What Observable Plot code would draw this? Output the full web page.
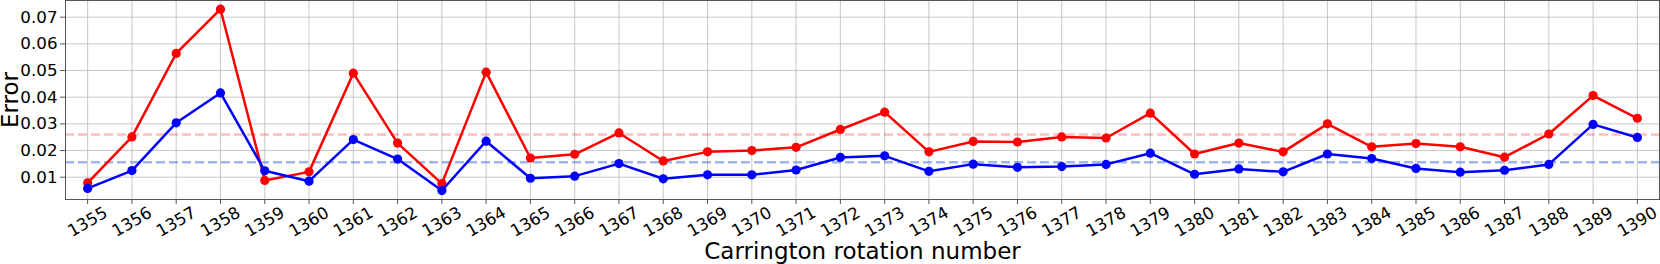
<!DOCTYPE html>
<html>
<head>
<meta charset="utf-8">
<script src="https://cdn.jsdelivr.net/npm/d3@7"></script>
<script src="https://cdn.jsdelivr.net/npm/@observablehq/plot@0.6"></script>
<style>
  html, body { margin: 0; padding: 0; background: #fff; }
  #chart svg { display: block; }
</style>
</head>
<body>
<div id="chart"></div>
<script>
const rotations = [1355,1356,1357,1358,1359,1360,1361,1362,1363,1364,1365,1366,1367,1368,1369,1370,1371,1372,1373,1374,1375,1376,1377,1378,1379,1380,1381,1382,1383,1384,1385,1386,1387,1388,1389,1390];
const redErrors = [0.0079,0.0251,0.0564,0.0730,0.0088,0.0120,0.0490,0.0228,0.0076,0.0494,0.0172,0.0186,0.0266,0.0161,0.0195,0.0200,0.0212,0.0279,0.0344,0.0195,0.0234,0.0232,0.0251,0.0247,0.0340,0.0187,0.0228,0.0195,0.0300,0.0214,0.0226,0.0214,0.0175,0.0262,0.0406,0.0321];
const blueErrors = [0.0058,0.0125,0.0304,0.0416,0.0124,0.0085,0.0241,0.0168,0.0050,0.0235,0.0096,0.0104,0.0151,0.0094,0.0109,0.0109,0.0127,0.0174,0.0180,0.0122,0.0149,0.0137,0.0140,0.0148,0.0190,0.0111,0.0131,0.0120,0.0187,0.0170,0.0133,0.0119,0.0126,0.0148,0.0298,0.0249];
const redMean = 0.0260;
const blueMean = 0.0156;
const yTicks = [0.01,0.02,0.03,0.04,0.05,0.06,0.07];
const xLabel = "Carrington rotation number";
const yLabel = "Error";

const redData = rotations.map((r, i) => ({r, v: redErrors[i]}));
const blueData = rotations.map((r, i) => ({r, v: blueErrors[i]}));

const font = "DejaVu Sans, Liberation Sans, sans-serif";

const chart = Plot.plot({
  width: 1660,
  height: 264,
  marginLeft: 65,
  marginRight: 1,
  marginTop: 0,
  marginBottom: 65,
  style: {fontFamily: font, background: "#fff", color: "#000", overflow: "visible"},
  x: {domain: [1354.5, 1390.5], axis: null},
  y: {domain: [0.00164, 0.07626], axis: null},
  marks: [
    Plot.gridX(rotations, {stroke: "#b0b0b0", strokeOpacity: 0.7, strokeWidth: 1}),
    Plot.gridY(yTicks, {stroke: "#b0b0b0", strokeOpacity: 0.7, strokeWidth: 1}),
    Plot.ruleY([redMean], {stroke: "red", strokeOpacity: 0.25, strokeWidth: 2.5, strokeDasharray: "9,4"}),
    Plot.ruleY([blueMean], {stroke: "#4169e1", strokeOpacity: 0.5, strokeWidth: 2.5, strokeDasharray: "9,4"}),
    Plot.line(redData, {x: "r", y: "v", stroke: "red", strokeWidth: 2.5}),
    Plot.dot(redData, {x: "r", y: "v", fill: "red", r: 4.6, stroke: null}),
    Plot.line(blueData, {x: "r", y: "v", stroke: "blue", strokeWidth: 2.5}),
    Plot.dot(blueData, {x: "r", y: "v", fill: "blue", r: 4.6, stroke: null}),
    Plot.frame({stroke: "#555", strokeWidth: 1}),
    Plot.axisY({ticks: yTicks, tickFormat: d3.format(".2f"), tickSize: 5, tickPadding: 3, fontSize: 16.7, label: null, stroke: "#555", color: "#000"}),
    Plot.axisX({ticks: rotations, tickSize: 5, tickFormat: () => "", label: null, stroke: "#555"}),
    Plot.text(rotations, {x: d => d, frameAnchor: "bottom", dy: 22.5, rotate: -30, text: d => String(d), textAnchor: "middle", lineAnchor: "middle", fontSize: 16.7, fill: "#000"}),
    Plot.text([xLabel], {frameAnchor: "bottom", dy: 59, text: d => d, textAnchor: "middle", lineAnchor: "bottom", fontSize: 23, fill: "#000"}),
    Plot.text([yLabel], {frameAnchor: "left", dx: -47.5, text: d => d, rotate: -90, textAnchor: "middle", lineAnchor: "bottom", fontSize: 23, fill: "#000"})
  ]
});
document.getElementById("chart").appendChild(chart);
</script>
</body>
</html>
